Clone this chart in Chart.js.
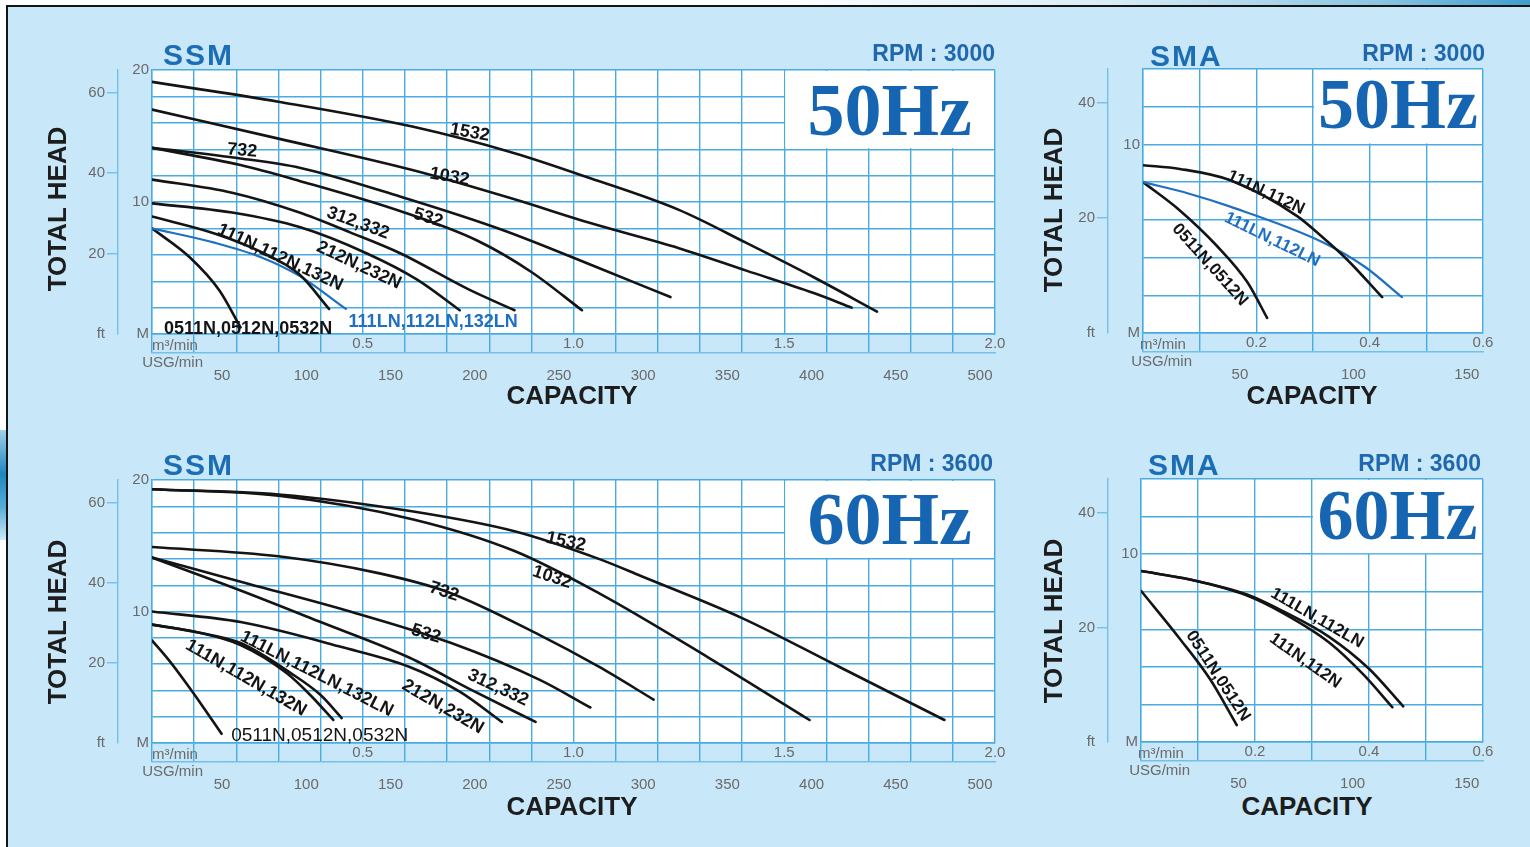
<!DOCTYPE html>
<html>
<head>
<meta charset="utf-8">
<title>SSM / SMA performance curves</title>
<script src="https://cdn.jsdelivr.net/npm/chart.js@4.4.1/dist/chart.umd.min.js"></script>
<style>
  body { margin:0; width:1530px; height:847px; overflow:hidden; background:#fff; position:relative;
         font-family:"Liberation Sans", Arial, sans-serif; }
  #frame { position:absolute; left:6px; top:5px; width:1524px; height:842px; background:#c8e7f8;
           border-top:2px solid #141414; border-left:2px solid #141414; box-sizing:border-box; }
  #stripe { position:absolute; left:760px; top:0; width:770px; height:5px;
            background:linear-gradient(to right, #ffffff, #d9edf6 45%, #8cc6e2 80%, #3f9dcc); }
  #edge { position:absolute; left:0; top:430px; width:6px; height:110px;
          background:linear-gradient(#9fd0ea, #1f86bf 40%, #56acd8 70%, #cfe9f6); }
  canvas { position:absolute; }
  .t { position:absolute; white-space:nowrap; line-height:1; font-weight:bold; }
  .series { font-size:30px; color:#1b6db4; letter-spacing:2px; }
  .rpm { font-size:23px; color:#1f67ae; }
  .axis { font-size:26px; color:#1d1d1d; transform:translate(-50%,-50%); }
  .vert { transform:translate(-50%,-50%) rotate(-90deg); }
</style>
</head>
<body>
<div id="frame"></div>
<div id="stripe"></div>
<div id="edge"></div>

<canvas id="ssm50" width="990" height="343" style="left:30px;top:40px"></canvas>
<canvas id="sma50" width="500" height="342" style="left:1030px;top:40px"></canvas>
<canvas id="ssm60" width="990" height="342" style="left:30px;top:450px"></canvas>
<canvas id="sma60" width="500" height="341" style="left:1030px;top:450px"></canvas>

<!-- panel headings and axis titles -->
<div class="t series" style="left:163px;top:40px">SSM</div>
<div class="t rpm" style="right:535px;top:42px">RPM : 3000</div>
<div class="t axis vert" style="left:57px;top:209px">TOTAL HEAD</div>
<div class="t axis" style="left:572px;top:395px">CAPACITY</div>

<div class="t series" style="left:1150px;top:41px">SMA</div>
<div class="t rpm" style="right:45px;top:42px">RPM : 3000</div>
<div class="t axis vert" style="left:1053px;top:210px">TOTAL HEAD</div>
<div class="t axis" style="left:1312px;top:395px">CAPACITY</div>

<div class="t series" style="left:163px;top:450px">SSM</div>
<div class="t rpm" style="right:537px;top:452px">RPM : 3600</div>
<div class="t axis vert" style="left:57px;top:622px">TOTAL HEAD</div>
<div class="t axis" style="left:572px;top:806px">CAPACITY</div>

<div class="t series" style="left:1148px;top:450px">SMA</div>
<div class="t rpm" style="right:49px;top:452px">RPM : 3600</div>
<div class="t axis vert" style="left:1053px;top:621px">TOTAL HEAD</div>
<div class="t axis" style="left:1307px;top:806px">CAPACITY</div>

<script>
//Data: capacity in m3/min, total head in m

//SSM, 50Hz, 3000 rpm
var ssm50Models = ['1532', '1032', '732', '532', '312,332', '212N,232N',
                   '111N,112N,132N', '111LN,112LN,132LN', '0511N,0512N,0532N'];
var ssm50Flow = [
  [0, 0.30, 0.62, 0.86, 1.04, 1.25, 1.41, 1.57, 1.72],
  [0, 0.30, 0.62, 0.86, 1.04, 1.25, 1.41, 1.57, 1.66],
  [0, 0.21, 0.35, 0.59, 0.83, 1.06, 1.23],
  [0, 0.21, 0.35, 0.59, 0.77, 0.90, 1.02],
  [0, 0.19, 0.35, 0.47, 0.59, 0.75, 0.86],
  [0, 0.19, 0.35, 0.51, 0.63, 0.73],
  [0, 0.15, 0.26, 0.35, 0.42],
  [0, 0.15, 0.26, 0.35, 0.46],
  [0, 0.09, 0.16, 0.21]
];
var ssm50Head = [
  [19.1, 17.6, 15.7, 13.7, 11.8, 9.4, 6.9, 4.3, 1.7],
  [17.0, 14.8, 12.4, 10.2, 8.4, 6.5, 4.8, 3.1, 2.0],
  [14.1, 13.3, 12.6, 10.4, 7.9, 5.0, 2.8],
  [14.1, 12.8, 11.6, 9.3, 7.1, 4.7, 1.8],
  [11.7, 10.7, 9.2, 7.7, 6.1, 3.4, 1.8],
  [9.9, 9.2, 8.1, 6.1, 4.1, 1.8],
  [8.9, 7.6, 6.2, 4.5, 1.9],
  [8.0, 6.9, 5.8, 4.4, 1.9],
  [8.0, 5.8, 3.3, 0.5]
];

//SSM, 60Hz, 3600 rpm
var ssm60Models = ['1532', '1032', '732', '532', '312,332', '212N,232N',
                   '111LN,112LN,132LN', '111N,112N,132N', '0511N,0512N,0532N'];
var ssm60Flow = [
  [0, 0.30, 0.62, 0.86, 1.06, 1.16, 1.40, 1.63, 1.88],
  [0, 0.30, 0.62, 0.86, 1.06, 1.32, 1.56],
  [0, 0.30, 0.54, 0.70, 0.92, 1.06, 1.19],
  [0, 0.23, 0.47, 0.71, 0.92, 1.04],
  [0, 0.21, 0.40, 0.61, 0.76, 0.91],
  [0, 0.21, 0.45, 0.61, 0.73, 0.83],
  [0, 0.11, 0.21, 0.33, 0.40, 0.45],
  [0, 0.11, 0.21, 0.32, 0.38, 0.43],
  [0, 0.04, 0.08, 0.12, 0.165]
];
var ssm60Head = [
  [19.3, 18.9, 17.6, 16.1, 14.0, 12.7, 9.5, 5.8, 1.75],
  [19.3, 18.8, 17.0, 14.6, 11.4, 6.5, 1.75],
  [14.9, 14.2, 12.9, 11.5, 8.2, 5.8, 3.3],
  [14.1, 12.1, 10.0, 7.6, 4.8, 2.7],
  [14.1, 11.6, 9.2, 6.5, 4.0, 1.6],
  [10.0, 9.2, 7.3, 5.8, 3.9, 1.6],
  [9.0, 8.4, 7.6, 5.3, 3.65, 1.9],
  [9.0, 8.4, 7.45, 5.3, 3.5, 1.75],
  [7.8, 6.3, 4.6, 2.8, 0.7]
];

//SMA, 50Hz, 3000 rpm
var sma50Models = ['111N,112N', '111LN,112LN', '0511N,0512N'];
var sma50Flow = [
  [0, 0.065, 0.154, 0.272, 0.316, 0.36, 0.422],
  [0, 0.08, 0.154, 0.318, 0.392, 0.457],
  [0, 0.065, 0.131, 0.184, 0.219]
];
var sma50Head = [
  [8.9, 8.7, 8.1, 6.2, 5.1, 3.9, 1.9],
  [8.0, 7.4, 6.7, 4.8, 3.5, 1.9],
  [8.0, 6.5, 4.6, 2.7, 0.8]
];

//SMA, 60Hz, 3600 rpm
var sma60Models = ['111LN,112LN', '111N,112N', '0511N,0512N'];
var sma60Flow = [
  [0, 0.086, 0.186, 0.25, 0.33, 0.40, 0.46],
  [0, 0.086, 0.186, 0.25, 0.33, 0.39, 0.441],
  [0, 0.068, 0.121, 0.168]
];
var sma60Head = [
  [9.1, 8.65, 7.85, 6.95, 5.6, 3.9, 1.9],
  [9.1, 8.65, 7.8, 6.85, 5.3, 3.6, 1.85],
  [8.05, 5.5, 3.35, 0.9]
];

//Axis tick values
var ssmUsgTicks = [50, 100, 150, 200, 250, 300, 350, 400, 450, 500];
var smaUsgTicks = [50, 100, 150];
var ssmFtTicks = [0, 20, 40, 60];
var smaFtTicks = [0, 20, 40];

//Curve captions: text, anchor (m3/min, m), angle in degrees
var ssm50Captions = [
  {text:'1532', q:0.754, h:15.25, a:10},
  {text:'1032', q:0.706, h:11.9, a:10},
  {text:'732', q:0.214, h:13.9, a:5},
  {text:'532', q:0.655, h:8.8, a:18},
  {text:'312,332', q:0.489, h:8.4, a:20},
  {text:'212N,232N', q:0.491, h:5.2, a:25},
  {text:'111N,112N,132N', q:0.304, h:5.8, a:25},
  {text:'111LN,112LN,132LN', q:0.667, h:0.91, a:0, blue:true},
  {text:'0511N,0512N,0532N', q:0.228, h:0.38, a:0}
];
var ssm60Captions = [
  {text:'1532', q:0.982, h:15.3, a:12},
  {text:'1032', q:0.949, h:12.6, a:18},
  {text:'732', q:0.693, h:11.5, a:18},
  {text:'532', q:0.650, h:8.3, a:17},
  {text:'312,332', q:0.821, h:4.2, a:25},
  {text:'212N,232N', q:0.690, h:2.75, a:30},
  {text:'111LN,112LN,132LN', q:0.391, h:5.25, a:27},
  {text:'111N,112N,132N', q:0.223, h:4.95, a:30},
  {text:'0511N,0512N,0532N', q:0.398, h:0.53, a:0, light:true}
];
var sma50Captions = [
  {text:'111N,112N', q:0.217, h:7.45, a:25},
  {text:'111LN,112LN', q:0.228, h:4.95, a:26, blue:true},
  {text:'0511N,0512N', q:0.118, h:3.62, a:48}
];
var sma60Captions = [
  {text:'111LN,112LN', q:0.309, h:6.59, a:30},
  {text:'111N,112N', q:0.288, h:4.32, a:35},
  {text:'0511N,0512N', q:0.135, h:3.51, a:57}
];

//Colours
var GRID = '#49ace1';
var AXIS_LINE = '#72c1ea';
var INK = '#141414';
var LN_BLUE = '#1f6fc2';
var GREY = '#6a6a6a';
var HZ_BLUE = '#1565b2';
var M_TO_FT = 3.28084;
var FONT = '"Liberation Sans", Arial, sans-serif';

function makePoints(q, h){
  var pts = [];
  for(var i = 0; i < q.length; i++){
    pts.push({x:q[i], y:h[i]});
  }
  return pts;
}

function tickList(max, step){
  var out = [];
  for(var i = 0; i * step <= max + 1e-9; i++){
    out.push({value: +(i * step).toFixed(2)});
  }
  return out;
}

//Function making one panel
function drawPanel(p){
  var datasets = [];
  for(var i = 0; i < p.models.length; i++){
    var isBlue = p.blue.indexOf(p.models[i]) >= 0;
    datasets.push({
      label: p.models[i],
      data: makePoints(p.flow[i], p.head[i]),
      showLine: true,
      borderColor: isBlue ? LN_BLUE : INK,
      borderWidth: isBlue ? 2.2 : 2.6,
      pointRadius: 0,
      cubicInterpolationMode: 'monotone',
      borderCapStyle: 'round'
    });
  }

  function labelled(v){
    var k = Math.round(v * 10);
    return k > 0 && k % p.xLabelEvery === 0;
  }

  //white plot, white "Hz" box in the top right corner
  var panelBack = {
    id: 'panelBack',
    beforeDraw: function(chart){
      var a = chart.chartArea, ctx = chart.ctx;
      ctx.save();
      ctx.fillStyle = '#ffffff';
      ctx.fillRect(a.left, a.top, a.right - a.left, a.bottom - a.top);
      ctx.restore();
    },
    beforeDatasetsDraw: function(chart){
      var x = chart.scales.x, y = chart.scales.y, ctx = chart.ctx;
      var l = x.getPixelForValue(p.boxQ) + 1, r = x.getPixelForValue(x.max) - 1;
      var t = y.getPixelForValue(y.max) + 1, b = y.getPixelForValue(p.boxH) - 1;
      ctx.save();
      ctx.fillStyle = '#ffffff';
      ctx.fillRect(l, t, r - l, b - t);
      ctx.font = 'bold ' + p.hzSize + 'px "Liberation Serif", "Times New Roman", serif';
      ctx.fillStyle = HZ_BLUE;
      ctx.textAlign = 'center';
      ctx.textBaseline = 'alphabetic';
      ctx.fillText(p.hz, (l + r) / 2, b - p.hzLift);
      ctx.restore();
    }
  };

  //captions along the curves and the unit names
  var captions = {
    id: 'captions',
    afterDatasetsDraw: function(chart){
      var x = chart.scales.x, y = chart.scales.y, ctx = chart.ctx, a = chart.chartArea;
      ctx.save();
      p.captions.forEach(function(c){
        ctx.save();
        ctx.translate(x.getPixelForValue(c.q), y.getPixelForValue(c.h));
        ctx.rotate(c.a * Math.PI / 180);
        ctx.font = c.light ? ('19px ' + FONT) : ('bold ' + p.capSize + 'px ' + FONT);
        ctx.fillStyle = c.blue ? LN_BLUE : INK;
        ctx.textAlign = 'center';
        ctx.textBaseline = 'middle';
        ctx.fillText(c.text, 0, 0);
        ctx.restore();
      });
      ctx.font = '15px ' + FONT;
      ctx.fillStyle = GREY;
      ctx.textBaseline = 'middle';
      ctx.textAlign = 'left';
      ctx.fillText('m\u00b3/min', a.left + p.unitDx, a.bottom + 12);
      ctx.textAlign = 'right';
      ctx.fillText('USG/min', a.left + p.usgDx, a.bottom + 29);
      ctx.restore();
    }
  };

  new Chart(document.getElementById(p.id), {
    type: 'scatter',
    data: {datasets: datasets},
    options: {
      responsive: false,
      animation: false,
      events: [],
      layout: {padding: p.pad},
      plugins: {legend: {display: false}, tooltip: {enabled: false}},
      scales: {
        x: {
          type: 'linear', position: 'bottom', weight: 0, min: 0, max: p.xMax,
          afterBuildTicks: function(s){ s.ticks = tickList(p.xMax, 0.1); },
          afterFit: function(s){ s.height = 19; },
          ticks: {
            autoSkip: false, maxRotation: 0, padding: -18, color: GREY, font: {size: 15, family: FONT},
            callback: function(v){ return labelled(v) ? v.toFixed(1) : ''; }
          },
          grid: {
            color: GRID, lineWidth: 1.4, tickLength: 19,
            tickColor: function(c){ return (c.tick && labelled(c.tick.value)) ? 'rgba(0,0,0,0)' : GRID; }
          },
          border: {display: true, color: GRID, width: 1.4}
        },
        usg: {
          type: 'linear', position: 'bottom', weight: 1, min: p.usgMin, max: p.usgMax,
          afterBuildTicks: function(s){ s.ticks = p.usgTicks.map(function(v){ return {value: v}; }); },
          afterFit: function(s){ s.height = 30; },
          ticks: {autoSkip: false, maxRotation: 0, padding: 6, color: GREY, font: {size: 15, family: FONT}},
          grid: {display: false},
          border: {display: true, color: AXIS_LINE, width: 1.4}
        },
        y: {
          type: 'linear', position: 'left', weight: 0, min: 0, max: p.yMax,
          afterBuildTicks: function(s){ s.ticks = tickList(p.yMax, 2); },
          afterFit: function(s){ s.width = p.mWidth; },
          ticks: {
            padding: 3, color: GREY, font: {size: 15, family: FONT},
            callback: function(v){
              if(v === 0) return 'M';
              return p.yLabels.indexOf(v) >= 0 ? String(v) : '';
            }
          },
          grid: {color: GRID, lineWidth: 1.4, drawTicks: false},
          border: {display: true, color: GRID, width: 1.4}
        },
        ft: {
          type: 'linear', position: 'left', weight: 1, min: 0, max: p.yMax * M_TO_FT,
          afterBuildTicks: function(s){ s.ticks = p.ftTicks.map(function(v){ return {value: v}; }); },
          afterFit: function(s){ s.width = p.ftWidth; },
          ticks: {
            padding: 2, color: GREY, font: {size: 15, family: FONT},
            callback: function(v){ return v === 0 ? 'ft' : String(v); }
          },
          grid: {
            drawOnChartArea: false, tickLength: 11, lineWidth: 1.4,
            color: function(c){ return (c.tick && c.tick.value === 0) ? 'rgba(0,0,0,0)' : AXIS_LINE; }
          },
          border: {display: true, color: AXIS_LINE, width: 1.4}
        }
      }
    },
    plugins: [panelBack, captions]
  });
}

window.onload = function(){
  drawPanel({id:'ssm50', models:ssm50Models, flow:ssm50Flow, head:ssm50Head, blue:['111LN,112LN,132LN'],
    captions:ssm50Captions, capSize:18, pad:{left:0, top:30, right:25, bottom:0}, ftWidth:88, mWidth:34,
    xMax:2, xLabelEvery:5, yMax:20, yLabels:[10, 20], ftTicks:ssmFtTicks,
    usgMin:8.4, usgMax:508.9, usgTicks:ssmUsgTicks, hz:'50Hz', hzSize:74, hzLift:13, boxQ:1.5, boxH:14,
    unitDx:0, usgDx:51});

  drawPanel({id:'ssm60', models:ssm60Models, flow:ssm60Flow, head:ssm60Head, blue:[],
    captions:ssm60Captions, capSize:18, pad:{left:0, top:30, right:25, bottom:0}, ftWidth:88, mWidth:34,
    xMax:2, xLabelEvery:5, yMax:20, yLabels:[10, 20], ftTicks:ssmFtTicks,
    usgMin:8.4, usgMax:508.9, usgTicks:ssmUsgTicks, hz:'60Hz', hzSize:74, hzLift:14, boxQ:1.5, boxH:14,
    unitDx:0, usgDx:51});

  drawPanel({id:'sma50', models:sma50Models, flow:sma50Flow, head:sma50Head, blue:['111LN,112LN'],
    captions:sma50Captions, capSize:17, pad:{left:0, top:29, right:47, bottom:0}, ftWidth:78, mWidth:35,
    xMax:0.6, xLabelEvery:2, yMax:14, yLabels:[10], ftTicks:smaFtTicks,
    usgMin:7.3, usgMax:157.1, usgTicks:smaUsgTicks, hz:'50Hz', hzSize:72, hzLift:15, boxQ:0.3, boxH:10,
    unitDx:-3, usgDx:49});

  drawPanel({id:'sma60', models:sma60Models, flow:sma60Flow, head:sma60Head, blue:[],
    captions:sma60Captions, capSize:17, pad:{left:0, top:29, right:47, bottom:0}, ftWidth:78, mWidth:33,
    xMax:0.6, xLabelEvery:2, yMax:14, yLabels:[10], ftTicks:smaFtTicks,
    usgMin:7.3, usgMax:157.1, usgTicks:smaUsgTicks, hz:'60Hz', hzSize:72, hzLift:14, boxQ:0.3, boxH:10,
    unitDx:-3, usgDx:49});
};
</script>
</body>
</html>
